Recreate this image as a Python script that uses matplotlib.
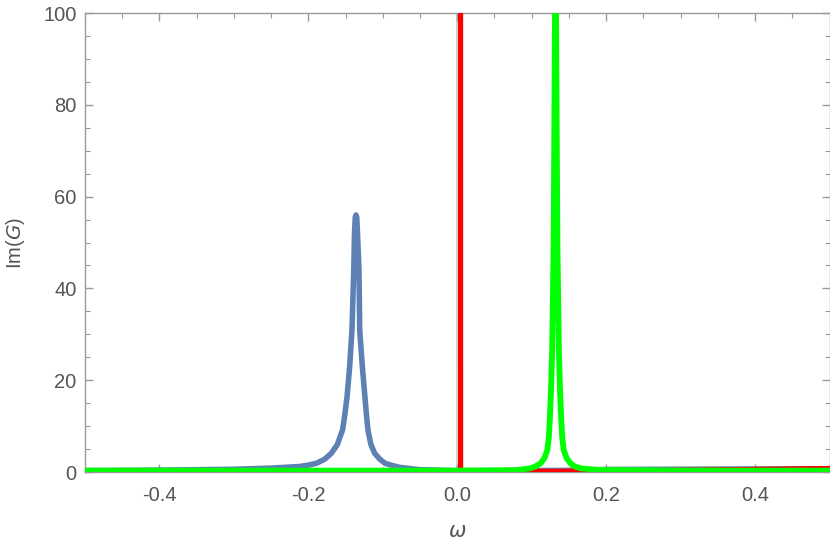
import matplotlib
matplotlib.use("Agg")
import matplotlib.pyplot as plt
from matplotlib.ticker import MultipleLocator, FormatStrFormatter

plt.rcParams['font.family'] = ['Liberation Sans', 'DejaVu Sans']

# blue curve (peak near -0.136)
blue_x = [-0.5, -0.4, -0.3, -0.25, -0.212, -0.2, -0.189, -0.178, -0.169, -0.161,
          -0.154, -0.151, -0.148, -0.1445, -0.1414, -0.139, -0.138, -0.137, -0.136,
          -0.135, -0.134, -0.132, -0.131, -0.1275, -0.124, -0.122, -0.120, -0.116,
          -0.111, -0.104, -0.097, -0.087, -0.077, -0.05, 0.0, 0.05, 0.15, 0.2, 0.3,
          0.4, 0.5]
blue_y = [0.3, 0.4, 0.6, 0.85, 1.2, 1.5, 1.9, 2.8, 4.1, 6.0,
          9.2, 12.5, 16.4, 23, 30.9, 44, 52, 55.5, 56,
          55.5, 52, 44, 30.9, 23, 16.4, 12.5, 9.2, 6.0,
          4.1, 2.8, 1.9, 1.4, 1.0, 0.5, 0.3, 0.3, 0.35, 0.55, 0.6,
          0.65, 0.7]

# red curve: very sharp spike just right of zero
red_x = [-0.5, -0.2, -0.05, 0.0, 0.004, 0.0045, 0.005, 0.01, 0.05, 0.15, 0.25, 0.35, 0.45, 0.5]
red_y = [0.2, 0.2, 0.2, 0.25, 0.3, 1000, 0.3, 0.25, 0.2, 0.25, 0.35, 0.55, 0.75, 0.85]

# green curve: sharp peak near 0.132
green_x = [-0.5, 0.0, 0.08, 0.098, 0.105, 0.112, 0.117, 0.121, 0.123, 0.1245, 0.126,
           0.1275, 0.1295, 0.1313, 0.132, 0.1327, 0.1345, 0.1365, 0.138, 0.1395, 0.141,
           0.143, 0.147, 0.152, 0.158, 0.166, 0.19, 0.3, 0.5]
green_y = [0.3, 0.3, 0.4, 0.8, 1.2, 1.9, 3.0, 4.8, 7.5, 12.1, 18,
           26.6, 50, 100, 400, 100, 50, 26.6, 18, 12.1, 7.5,
           4.8, 3.0, 1.9, 1.2, 0.8, 0.45, 0.3, 0.3]

xticks = [-0.4, -0.2, 0.0, 0.2, 0.4]
yticks = [0, 20, 40, 60, 80, 100]

fig = plt.figure(figsize=(8.30, 5.47), dpi=100)
ax = fig.add_axes([0.1024, 0.1371, 0.8970, 0.8391])

frame_col = '#9a9a9a'
text_col = '#555555'

ax.axvline(0, color='#c8c8c8', lw=1.2, zorder=1)
ax.plot(blue_x, blue_y, color='#5e81b5', lw=4.0, solid_joinstyle='round', zorder=2)
ax.plot(red_x, red_y, color='#ff0000', lw=3.2, solid_joinstyle='round', zorder=3)
ax.plot(green_x, green_y, color='#00ff00', lw=4.2, solid_joinstyle='round', zorder=4)

ax.set_xlim(-0.5, 0.5)
ax.set_ylim(0, 100)
ax.set_xticks(xticks)
ax.set_yticks(yticks)
ax.xaxis.set_major_formatter(FormatStrFormatter('%.1f'))
ax.xaxis.set_minor_locator(MultipleLocator(0.05))
ax.yaxis.set_minor_locator(MultipleLocator(5))

for s in ax.spines.values():
    s.set_color(frame_col)
    s.set_linewidth(1.0)

ax.tick_params(which='both', direction='in', top=True, right=True, color=frame_col,
               labelcolor=text_col, labelsize=14.5)
ax.tick_params(which='major', length=6, width=1.0)
ax.tick_params(which='minor', length=3.5, width=0.8)
ax.tick_params(axis='x', pad=10)
ax.tick_params(axis='y', pad=6)

ax.set_xlabel(r'$\omega$', color=text_col, fontsize=15, labelpad=12)
ax.set_ylabel('Im($G$)', color=text_col, fontsize=14.5, labelpad=12)

fig.savefig('out.png', dpi=100)
